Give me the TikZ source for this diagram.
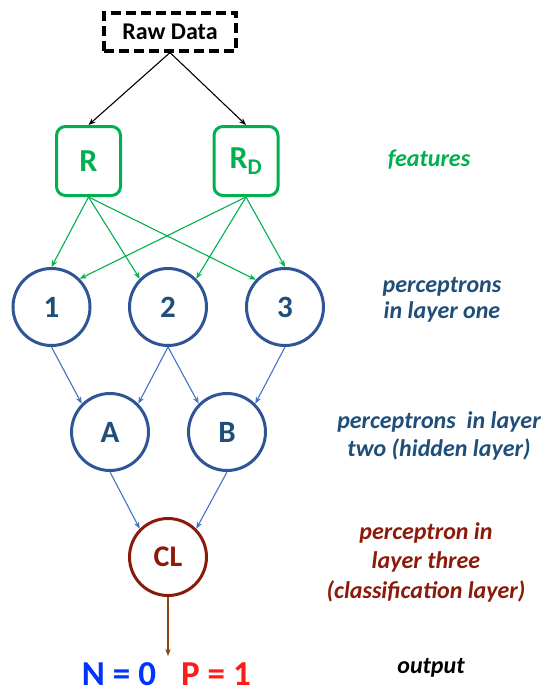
\documentclass[tikz,border=0pt]{standalone}
\usepackage{fontspec}
\setmainfont{Carlito}
\usetikzlibrary{arrows.meta}
\definecolor{fgreen}{HTML}{00B050}
\definecolor{cblue}{HTML}{2F5597}
\definecolor{tblue}{HTML}{1F4E79}
\definecolor{ablue}{HTML}{4472C4}
\definecolor{dred}{HTML}{8B1A0A}
\definecolor{obrown}{HTML}{8B4513}
\definecolor{nblue}{HTML}{0033FF}
\definecolor{pred}{HTML}{FF1A1A}
\tikzset{
  rawbox/.style={draw=black, line width=3.2pt, dash pattern=on 10pt off 5pt, minimum width=132pt, minimum height=38pt, inner sep=0pt, font=\fontsize{24}{26}\selectfont\bfseries},
  featbox/.style={draw=fgreen, line width=3pt, rounded corners=9pt, minimum width=64pt, minimum height=69pt, inner sep=0pt, text=fgreen, font=\fontsize{32}{36}\selectfont\bfseries},
  perc/.style={circle, draw=cblue, line width=3pt, minimum size=77pt, inner sep=0pt, text=tblue, font=\fontsize{31}{34}\selectfont\bfseries},
  clnode/.style={circle, draw=dred, line width=3pt, minimum size=77pt, inner sep=0pt, text=dred, font=\fontsize{30}{34}\selectfont\bfseries},
  lab/.style={align=center, inner sep=0pt, font=\fontsize{24}{28}\selectfont\bfseries\itshape},
  outtxt/.style={inner sep=0pt, anchor=base, font=\fontsize{35}{38}\selectfont\bfseries},
  tip/.style={-{Stealth[length=7pt,width=5.5pt]}},
  blk/.style={tip, draw=black, line width=1.1pt},
  grn/.style={tip, draw=fgreen, line width=1.1pt},
  blu/.style={tip, draw=ablue, line width=1.1pt},
  brn/.style={tip, draw=obrown, line width=1.1pt},
}
\begin{document}
\begin{tikzpicture}[x=1pt,y=-1pt]
\useasboundingbox (0,0) rectangle (548,693);
\node[rawbox] (raw) at (170,32) {Raw Data};
\node[featbox] (R) at (88.5,161) {R};
\node[featbox] (RD) at (246,161) {R\textsubscript{D}};
\node[perc] (c1) at (51.5,307) {1};
\node[perc] (c2) at (168,307) {2};
\node[perc] (c3) at (285,307) {3};
\node[perc] (A) at (110,432) {A};
\node[perc] (B) at (227,432) {B};
\node[clnode] (CL) at (168,557) {CL};
\coordinate (out) at (168,656);
\node[outtxt, text=nblue] (N) at (119,685) {N = 0};
\node[outtxt, text=pred] (P) at (216,685) {P = 1};

\node[lab, text=fgreen] (lf) at (429,160) {features};
\node[lab, text=tblue, font=\fontsize{24}{26}\selectfont\bfseries\itshape] (l1) at (442,300) {perceptrons\\in layer one};
\node[lab, text=tblue] (l2) at (439,436) {perceptrons~ in layer\\two (hidden layer)};
\node[lab, text=dred, font=\fontsize{24}{29.5}\selectfont\bfseries\itshape] (l3) at (426,562) {perceptron in\\layer three\\(classification layer)};
\node[lab, text=black] (lo) at (431,668) {output};

\draw[blk] (raw.south) -- (R.north);
\draw[blk] (raw.south) -- (RD.north);
\draw[grn] (R.south) -- (c1.north);
\draw[grn] (R.south) -- (c2.135);
\draw[grn] (R.south) -- (c3.137);
\draw[grn] (RD.south) -- (c1.45);
\draw[grn] (RD.south) -- (c2.45);
\draw[grn] (RD.south) -- (c3.north);
\draw[blu] (c1.south) -- (A.135);
\draw[blu] (c2.south) -- (A.45);
\draw[blu] (c2.south) -- (B.135);
\draw[blu] (c3.south) -- (B.45);
\draw[blu] (A.south) -- (CL.135);
\draw[blu] (B.south) -- (CL.45);
\draw[brn] (CL.south) -- (out);
\end{tikzpicture}
\end{document}
